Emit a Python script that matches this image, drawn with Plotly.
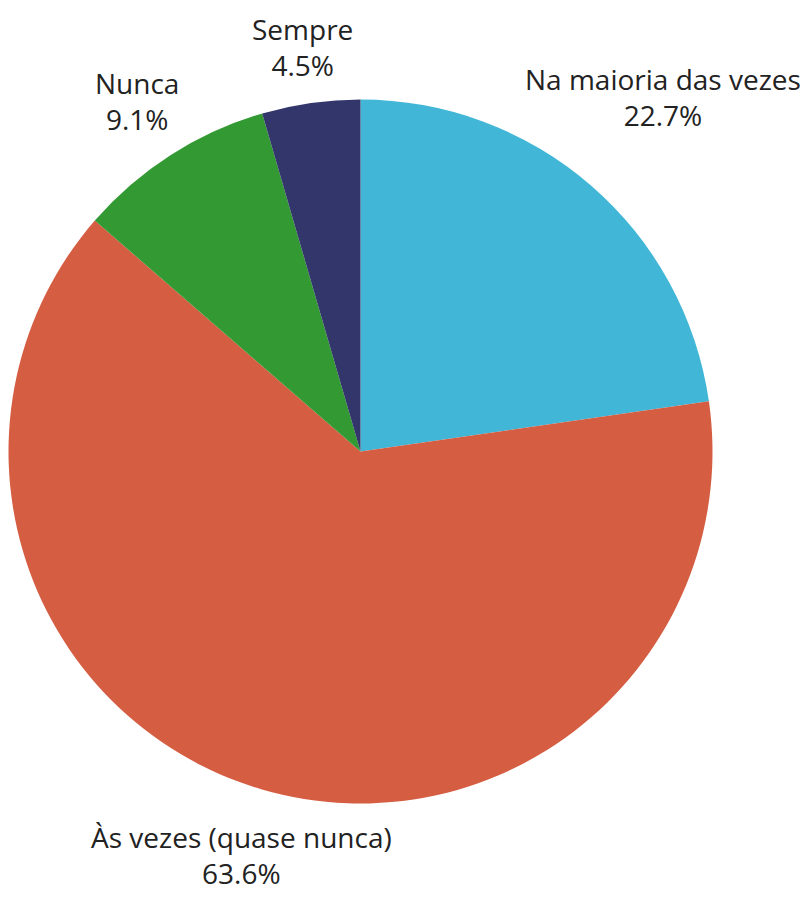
import math
import plotly.graph_objects as go

# Data
categories = ["Na maioria das vezes", "Às vezes (quase nunca)", "Nunca", "Sempre"]
percent_values = [22.7, 63.6, 9.1, 4.5]

# Styling
slice_colors = ["#41B6D6", "#D55D42", "#339933", "#33366B"]
label_dist = [468, 422, 415, 408]  # px distance of label centre from pie centre
label_xshift = [-4, 0, 0, 0]       # small horizontal nudges (px)

W, H = 802, 897
CX, CY, R = 360.5, 451.5, 352  # pie centre / radius in pixels (top-left origin)

fig = go.Figure(
    go.Pie(
        labels=categories,
        values=percent_values,
        sort=False,
        direction="clockwise",
        rotation=0,
        textinfo="none",
        hoverinfo="label+percent",
        marker=dict(colors=slice_colors, line=dict(width=0)),
        domain=dict(
            x=[(CX - R) / W, (CX + R) / W],
            y=[(H - CY - R) / H, (H - CY + R) / H],
        ),
        showlegend=False,
    )
)

total = sum(percent_values)
cum = 0.0
annotations = []
for cat, val, d, xs in zip(categories, percent_values, label_dist, label_xshift):
    mid = (cum + val / 2) / total * 2 * math.pi
    cum += val
    px = CX + d * math.sin(mid)
    py = CY - d * math.cos(mid)
    annotations.append(
        dict(
            x=px / W,
            y=1 - py / H,
            xref="paper",
            yref="paper",
            text=f"{cat}<br>{val:.1f}%",
            showarrow=False,
            xanchor="center",
            yanchor="middle",
            align="center",
            xshift=xs,
            yshift=1,
            font=dict(family="Open Sans", size=28, color="#222222"),
        )
    )

fig.update_layout(
    width=W,
    height=H,
    margin=dict(l=0, r=0, t=0, b=0),
    paper_bgcolor="white",
    plot_bgcolor="white",
    annotations=annotations,
)

fig.write_html(
    "out.html",
    config={"displayModeBar": False},
    post_script="document.body.style.margin='0px';document.body.style.overflow='hidden';",
)
